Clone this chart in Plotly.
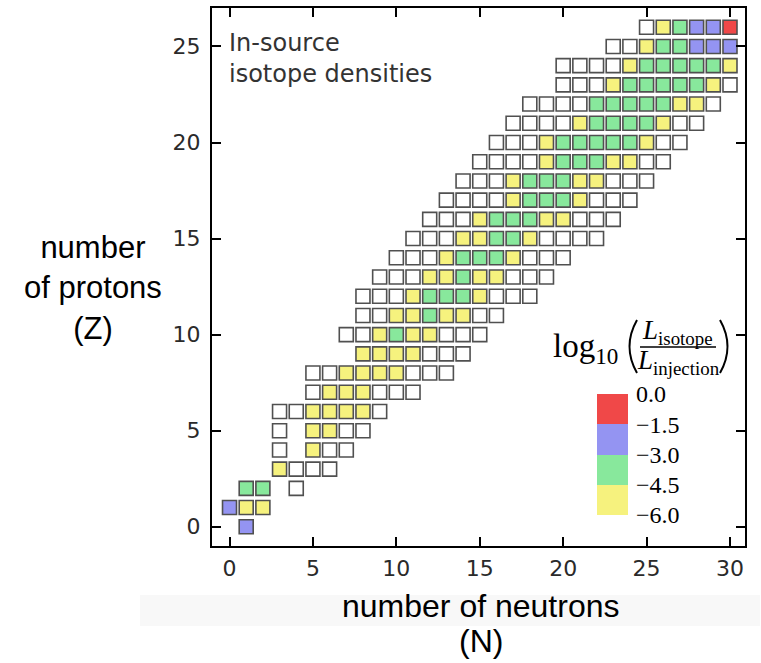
import plotly.graph_objects as go

# Chart of nuclides: one row per proton number Z, listing cells from the first neutron number.
# Codes: w = below scale, y = -6.0..-4.5, g = -4.5..-3.0, b = -3.0..-1.5, r = -1.5..0.0, . = no isotope
row_z = list(range(27))
row_start_n = [1, 0, 1, 3, 3, 3, 3, 5, 5, 8, 7, 8, 8, 9, 10, 11, 12, 13, 14, 15, 16, 17, 18, 20, 20, 23, 25]
row_codes = [
    "b", "byy", "gg.w", "ywww", "w.yww", "w.yyww", "wwyyyyw", "wyyywww",
    "wwyyyywww", "yyyywww", "wwygyywww", "wwyygyyww", "wwwygggywww",
    "wwwyygyywww", "wwwygggywww", "wwwyyggywwww", "wwwygggyywww",
    "wwwwygggywww", "wwwygggyywww", "wwwwygggyyww", "wwwygggggyww",
    "wwwwyggggyww", "wwwwgggggyyw", "wwwygggggyw", "wwwwygggggy",
    "wwyggbbb", "wygbbr",
]

# Colour bins of log10(L_isotope / L_injection)
bin_codes = ["w", "y", "g", "b", "r"]
bin_colors = ["#ffffff", "#f6f27e", "#88e89c", "#9494f2", "#f04848"]
bin_edges = [-6.0, -4.5, -3.0, -1.5, 0.0]
bin_labels = ["−6.0", "−4.5", "−3.0", "−1.5", "0.0"]

x_ticks = [0, 5, 10, 15, 20, 25, 30]
y_ticks = [0, 5, 10, 15, 20, 25]

cells = {c: ([], []) for c in bin_codes}
for z, n0, codes in zip(row_z, row_start_n, row_codes):
    for i, c in enumerate(codes):
        if c in cells:
            cells[c][0].append(n0 + i)
            cells[c][1].append(z)

fig = go.Figure()
for c, col in zip(bin_codes, bin_colors):
    xs, ys = cells[c]
    fig.add_trace(go.Scatter(
        x=xs, y=ys, mode="markers", showlegend=False, hoverinfo="x+y",
        marker=dict(symbol="square", size=14, color=col,
                    line=dict(color="#505050", width=1.6)),
        xaxis="x", yaxis="y",
    ))

# Discrete colour key drawn as stacked bars on a small inset axis
fig.add_trace(go.Bar(
    x=[0, 0, 0, 0], y=[bin_edges[i + 1] - bin_edges[i] for i in range(4)],
    base=bin_edges[:4], marker=dict(color=bin_colors[1:], line=dict(width=0)),
    width=1, showlegend=False, hoverinfo="skip", xaxis="x2", yaxis="y2",
))

L, R, T, B = 212, 16, 8, 117
W, H = 761, 663
pw, ph = W - L - R, H - T - B


def px(xp):
    return (xp - L) / pw


def py(yp):
    return (H - B - yp) / ph


axis_common = dict(
    ticks="inside", ticklen=9, tickwidth=1.5, tickcolor="black",
    showline=True, linewidth=2, linecolor="black", mirror="ticks",
    showgrid=False, zeroline=False, automargin=False,
    tickfont=dict(family="DejaVu Sans", size=22, color="#2a2a2a"),
)

fig.update_layout(
    width=W, height=H,
    margin=dict(l=L, r=R, t=T, b=B, autoexpand=False),
    plot_bgcolor="white", paper_bgcolor="white",
    xaxis=dict(range=[-1.05, 30.9], tickvals=x_ticks, domain=[0, 1],
               ticklabelstandoff=2, **axis_common),
    yaxis=dict(range=[-1, 27], tickvals=y_ticks, domain=[0, 1],
               ticklabelstandoff=5, ticksuffix=" ", **axis_common),
    xaxis2=dict(domain=[px(597), px(628)], anchor="y2", range=[-0.5, 0.5],
                visible=False),
    yaxis2=dict(domain=[py(515), py(394)], anchor="x2", range=[-6, 0],
                side="right", tickvals=bin_edges, ticktext=bin_labels,
                showgrid=False, zeroline=False, showline=False, ticks="",
                ticklabelstandoff=7, automargin=False,
                tickfont=dict(family="Liberation Serif", size=24, color="black")),
    bargap=0,
)

ann_common = dict(xref="paper", yref="paper", showarrow=False)
annotations = [
    dict(text="In-source<br>isotope densities", x=px(227), y=py(27),
         xanchor="left", yanchor="top", align="left",
         font=dict(family="DejaVu Sans", size=24, color="#333333"), **ann_common),
    dict(text="number<br>of protons<br>(Z)", x=px(93), y=py(288),
         xanchor="center", yanchor="middle", align="center",
         font=dict(family="Liberation Sans", size=31, color="black"), **ann_common),
    dict(text="number of neutrons", x=px(481), y=py(606),
         xanchor="center", yanchor="middle",
         font=dict(family="Liberation Sans", size=32, color="black"), **ann_common),
    dict(text="(N)", x=px(481), y=py(641),
         xanchor="center", yanchor="middle",
         font=dict(family="Liberation Sans", size=32, color="black"), **ann_common),
    dict(text="log<sub>10</sub>", x=px(551), y=py(348),
         xanchor="left", yanchor="middle",
         font=dict(family="Liberation Serif", size=33, color="black"), **ann_common),
    dict(text="<i>L</i><sub>isotope</sub>", x=px(677), y=py(332),
         xanchor="center", yanchor="middle",
         font=dict(family="Liberation Serif", size=27, color="black"), **ann_common),
    dict(text="<i>L</i><sub>injection</sub>", x=px(678), y=py(362),
         xanchor="center", yanchor="middle",
         font=dict(family="Liberation Serif", size=27, color="black"), **ann_common),
]
fig.update_layout(annotations=annotations)

shapes = [
    # faint band behind the x-axis title
    dict(type="rect", xref="paper", yref="paper", x0=px(140), x1=px(760),
         y0=py(626), y1=py(595), fillcolor="#f8f8f8", line=dict(width=0),
         layer="below"),
    # fraction bar
    dict(type="line", xref="paper", yref="paper", x0=px(640), x1=px(716),
         y0=py(347), y1=py(347), line=dict(color="black", width=1.5)),
    # large parentheses
    dict(type="path", xref="paper", yref="paper",
         path=f"M {px(637)},{py(320)} Q {px(622)},{py(346.5)} {px(637)},{py(373)}",
         line=dict(color="black", width=2)),
    dict(type="path", xref="paper", yref="paper",
         path=f"M {px(720)},{py(320)} Q {px(735)},{py(346.5)} {px(720)},{py(373)}",
         line=dict(color="black", width=2)),
]
fig.update_layout(shapes=shapes)

fig.write_html("out.html")
